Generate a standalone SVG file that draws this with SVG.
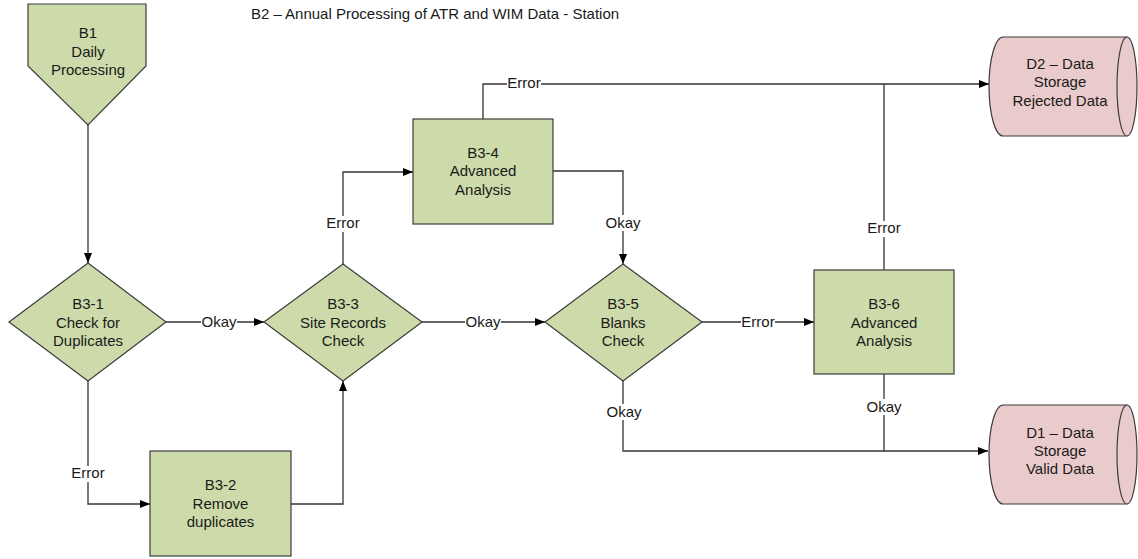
<svg xmlns="http://www.w3.org/2000/svg" width="1138" height="559" viewBox="0 0 1138 559">
<style>
text{font-family:"Liberation Sans",Arial,Helvetica,sans-serif;font-size:15px;fill:#1a1a1a;text-anchor:middle}
.g{fill:#cddaa9;stroke:#3c3c3c;stroke-width:1.2}
.p{fill:#eacbcb;stroke:#3c3c3c;stroke-width:1.2}
.c{fill:none;stroke:#333;stroke-width:1.3}
.lb{fill:#fff}
</style>
<defs>
<marker id="ah" viewBox="0 0 10 8" refX="10" refY="4" markerWidth="10" markerHeight="8" markerUnits="userSpaceOnUse" orient="auto">
<path d="M0,0 L10,4 L0,8 z" fill="#000"/>
</marker>
</defs>
<rect width="1138" height="559" fill="#fff"/>
<text x="435" y="19" id="title">B2 – Annual Processing of ATR and WIM Data - Station</text>

<g id="connectors">
<path class="c" d="M88,125 V263" marker-end="url(#ah)"/>
<path class="c" d="M166,322 H264" marker-end="url(#ah)"/>
<path class="c" d="M88,381 V504 H150" marker-end="url(#ah)"/>
<path class="c" d="M291,504 H343 V381" marker-end="url(#ah)"/>
<path class="c" d="M343,264 V172 H413" marker-end="url(#ah)"/>
<path class="c" d="M422,322 H545" marker-end="url(#ah)"/>
<path class="c" d="M483,119 V84 H989" marker-end="url(#ah)"/>
<path class="c" d="M553,171 H623 V264" marker-end="url(#ah)"/>
<path class="c" d="M702,322 H814" marker-end="url(#ah)"/>
<path class="c" d="M623,381 V451 H988" marker-end="url(#ah)"/>
<path class="c" d="M884,270 V84"/>
<path class="c" d="M884,374 V451"/>
<g id="labels">
<rect class="lb" x="201" y="314" width="36" height="16"/><text x="219" y="327">Okay</text>
<rect class="lb" x="71" y="466" width="34" height="16"/><text x="88" y="478">Error</text>
<rect class="lb" x="326" y="216" width="34" height="16"/><text x="343" y="228">Error</text>
<rect class="lb" x="465" y="314" width="36" height="16"/><text x="483" y="327">Okay</text>
<rect class="lb" x="507" y="76" width="34" height="16"/><text x="524" y="88">Error</text>
<rect class="lb" x="605" y="215" width="36" height="16"/><text x="623" y="228">Okay</text>
<rect class="lb" x="741" y="314" width="34" height="16"/><text x="758" y="327">Error</text>
<rect class="lb" x="606" y="404" width="36" height="16"/><text x="624" y="417">Okay</text>
<rect class="lb" x="867" y="221" width="34" height="16"/><text x="884" y="233">Error</text>
<rect class="lb" x="866" y="399" width="36" height="16"/><text x="884" y="412">Okay</text>
</g>
</g>

<g id="B1">
<polygon class="g" points="28,4 146,4 146,66 88,125 28,66"/>
<text x="88" y="38">B1</text><text x="88" y="56.5">Daily</text><text x="88" y="75">Processing</text>
</g>
<g id="B3-1">
<polygon class="g" points="88,263 166,322 88,381 9,322"/>
<text x="88" y="309">B3-1</text><text x="88" y="327.5">Check for</text><text x="88" y="346">Duplicates</text>
</g>
<g id="B3-2">
<rect class="g" x="150" y="451" width="141" height="105"/>
<text x="220.5" y="490">B3-2</text><text x="220.5" y="508.5">Remove</text><text x="220.5" y="527">duplicates</text>
</g>
<g id="B3-3">
<polygon class="g" points="343,264 422,322 343,381 264,322"/>
<text x="343" y="309">B3-3</text><text x="343" y="327.5">Site Records</text><text x="343" y="346">Check</text>
</g>
<g id="B3-4">
<rect class="g" x="413" y="119" width="140" height="105"/>
<text x="483" y="157.5">B3-4</text><text x="483" y="176">Advanced</text><text x="483" y="194.5">Analysis</text>
</g>
<g id="B3-5">
<polygon class="g" points="623,264 702,322 623,381 545,322"/>
<text x="623" y="309">B3-5</text><text x="623" y="327.5">Blanks</text><text x="623" y="346">Check</text>
</g>
<g id="B3-6">
<rect class="g" x="814" y="270" width="140" height="104"/>
<text x="884" y="309">B3-6</text><text x="884" y="327.5">Advanced</text><text x="884" y="346">Analysis</text>
</g>
<g id="D2">
<path class="p" d="M1003,37 H1127 A10,49.5 0 0 1 1127,136 H1003 A14,49.5 0 0 1 1003,37 z"/>
<path class="p" d="M1127,37 A10,49.5 0 0 0 1127,136" fill="none"/>
<text x="1060" y="69">D2 – Data</text><text x="1060" y="87">Storage</text><text x="1060" y="106">Rejected Data</text>
</g>
<g id="D1">
<path class="p" d="M1003,405 H1127 A10,49.5 0 0 1 1127,504 H1003 A14,49.5 0 0 1 1003,405 z"/>
<path class="p" d="M1127,405 A10,49.5 0 0 0 1127,504" fill="none"/>
<text x="1060" y="438">D1 – Data</text><text x="1060" y="456">Storage</text><text x="1060" y="474">Valid Data</text>
</g>
</svg>
